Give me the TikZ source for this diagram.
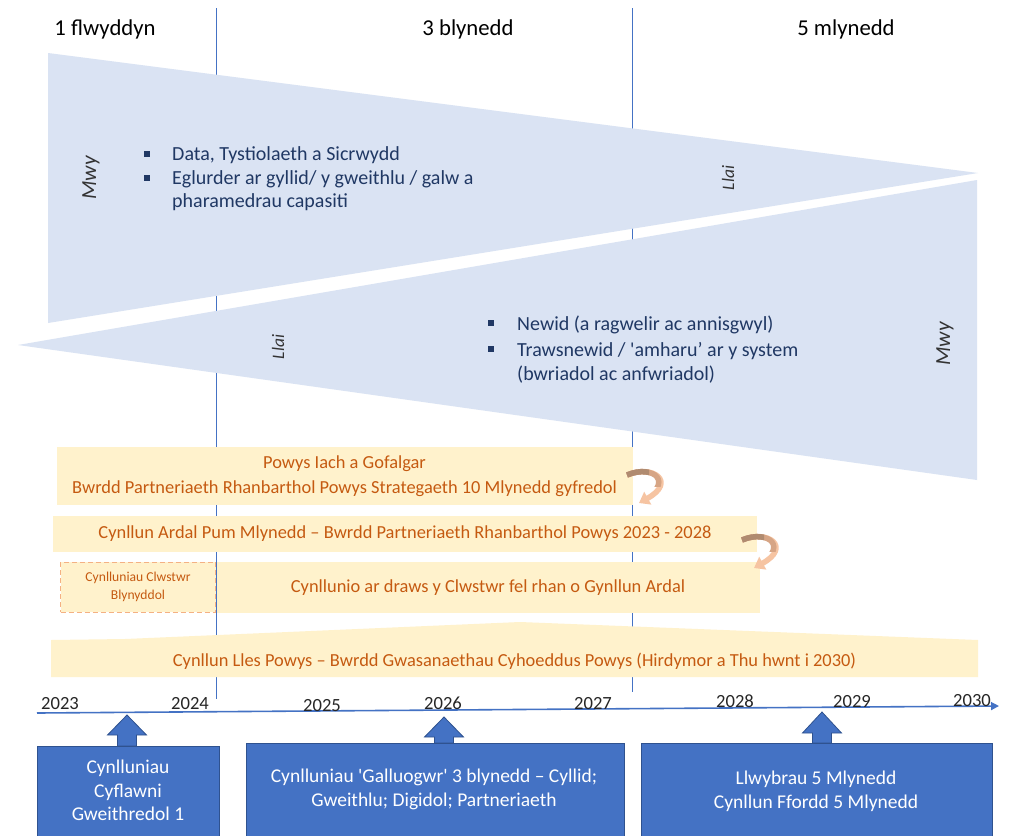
\documentclass[tikz,border=0pt]{standalone}
\usepackage{fontspec}
\newfontfamily\calfont{Carlito}
\usetikzlibrary{arrows.meta}
\definecolor{tri}{HTML}{DAE3F3}
\definecolor{vline}{HTML}{4472C4}
\definecolor{navy}{HTML}{203864}
\definecolor{boxfill}{HTML}{FFF2CC}
\definecolor{orangetext}{HTML}{C55A11}
\definecolor{dashcol}{HTML}{F4B183}
\definecolor{blue1}{HTML}{4472C4}
\definecolor{blueedge}{HTML}{2F528F}
\definecolor{yeartext}{HTML}{262626}
\definecolor{sidetext}{HTML}{333333}
\definecolor{curlA}{HTML}{B08B70}
\definecolor{curlB}{HTML}{D6A585}
\definecolor{curlC}{HTML}{F6C4A2}
\newcommand\fs[2]{\fontsize{#1}{#2}\selectfont}
\newcommand\uparr[4]{%
  \fill[blue1, draw=blueedge, line width=0.8pt]
    (#1,#2) -- (#1+19.5,#3) -- (#1+9.5,#3) -- (#1+9.5,#4)
    -- (#1-9.5,#4) -- (#1-9.5,#3) -- (#1-19.5,#3) -- cycle;}
\newcommand\curlpath{(0,3) .. controls (26,-8) and (50,10) .. (12,31)}
\begin{document}
\begin{tikzpicture}[x=1pt,y=-1pt,
  every node/.style={font=\calfont, inner sep=0pt},
  hdr/.style={font=\calfont\fs{22.7}{26}, text=black, anchor=base},
  bul/.style={font=\calfont\fs{20}{24}, text=navy, anchor=base west},
  sq/.style={fill=navy},
  side/.style={font=\calfont\itshape\fs{21.5}{24}, text=sidetext, rotate=90},
  sidesm/.style={font=\calfont\itshape\fs{17.5}{20}, text=sidetext, rotate=90},
  plan/.style={fill=boxfill, font=\calfont\fs{18.4}{24.5}, text=orangetext, align=center, inner sep=0pt},
  yr/.style={font=\calfont\fs{18.6}{20}, text=yeartext, anchor=base},
  bbox/.style={fill=blue1, draw=blueedge, line width=0.8pt},
  btext/.style={font=\calfont\fs{19.5}{23.5}, text=white, align=center},
  tl/.style={draw=vline, line width=0.9pt},
  curl/.style={line width=5.5pt},
]
\clip (0,0) rectangle (1011,835);
\fill[white] (0,0) rectangle (1011,835);

% vertical period lines
\coordinate (v1t) at (216,8);  \coordinate (v1b) at (216,699);
\coordinate (v2t) at (632,8);  \coordinate (v2b) at (632,692);
\draw[tl] (v1t) -- (v1b);
\draw[tl] (v2t) -- (v2b);

% headers
\node[hdr] (h1) at (105,35) {1 flwyddyn};
\node[hdr] (h2) at (468,35) {3 blynedd};
\node[hdr] (h3) at (846,35) {5 mlynedd};

% triangles
\fill[tri] (48,53) -- (978,173) -- (48,323) -- cycle;
\fill[tri] (18,345) -- (977,180) -- (977,480) -- cycle;

% top triangle texts
\node[side] (mwy1) at (91,178) {Mwy};
\node[sidesm] (llai1) at (728,178) {Llai};
\fill[sq] (144,151) rectangle (150,157);
\fill[sq] (144,175) rectangle (150,181);
\node[bul] (b1) at (172,160) {Data, Tystiolaeth a Sicrwydd};
\node[bul] (b2) at (172,184) {Eglurder ar gyllid/ y gweithlu / galw a};
\node[bul] (b3) at (172,207) {pharamedrau capasiti};

% bottom triangle texts
\node[sidesm] (llai2) at (278,347) {Llai};
\node[side] (mwy2) at (945,344) {Mwy};
\fill[sq] (488,320) rectangle (494,326);
\fill[sq] (488,346) rectangle (494,352);
\node[bul] (b4) at (517,330) {Newid (a ragwelir ac annisgwyl)};
\node[bul] (b5) at (517,356) {Trawsnewid / 'amharu’ ar y system};
\node[bul] (b6) at (517,380) {(bwriadol ac anfwriadol)};

% plan boxes
\node[plan, minimum width=576pt, minimum height=58pt] (p1) at (344.5,476)
  {Powys Iach a Gofalgar\\Bwrdd Partneriaeth Rhanbarthol Powys Strategaeth 10 Mlynedd gyfredol};
\node[plan, minimum width=704pt, minimum height=36pt] (p2) at (405,534)
  {Cynllun Ardal Pum Mlynedd – Bwrdd Partneriaeth Rhanbarthol Powys 2023 - 2028};
\node[plan, minimum width=543pt, minimum height=51pt] (p4) at (488,587.5)
  {\raisebox{3pt}{Cynllunio ar draws y Clwstwr fel rhan o Gynllun Ardal}};
\node[plan, draw=dashcol, line width=1pt, dash pattern=on 5pt off 3pt,
  minimum width=155pt, minimum height=50pt, font=\calfont\fs{13.6}{17.5}] (p3) at (138,587)
  {Cynlluniau Clwstwr\\Blynyddol};
\fill[boxfill] (51,677) -- (51,640) -- (125,639) -- (520,622) -- (978,640) -- (978,677) -- cycle;
\node[font=\calfont\fs{18.4}{20}, text=orangetext, anchor=base] (p5) at (514.5,666)
  {Cynllun Lles Powys – Bwrdd Gwasanaethau Cyhoeddus Powys (Hirdymor a Thu hwnt i 2030)};

% curved arrows
\foreach \cx/\cy in {627/472, 742/537}{
  \begin{scope}[shift={(\cx,\cy)}]
    \draw[curl, curlC, -{Triangle[width=14pt,length=10pt]}] \curlpath;
    \begin{scope}
      \clip (-5,-15) rectangle (60,14);
      \draw[curl, curlB] \curlpath;
    \end{scope}
    \begin{scope}
      \clip (-5,-15) rectangle (22,14);
      \draw[curl, curlA] \curlpath;
    \end{scope}
  \end{scope}
}

% time axis
\coordinate (ax0) at (37,713);
\coordinate (ax1) at (999,706);
\draw[vline, line width=1.6pt, -{Triangle[length=8pt,width=8pt]}] (ax0) -- (ax1);
\node[yr] (y23) at (60,709) {2023};
\node[yr] (y24) at (190,709) {2024};
\node[yr] (y25) at (322,711) {2025};
\node[yr] (y26) at (443,709) {2026};
\node[yr] (y27) at (593,709) {2027};
\node[yr] (y28) at (735,707) {2028};
\node[yr] (y29) at (852,707) {2029};
\node[yr] (y30) at (972,706) {2030};

% block arrows and bottom boxes
\uparr{127}{715}{735}{746}
\uparr{444}{717}{737}{743}
\uparr{822}{712}{733}{743}
\node[bbox, minimum width=182pt, minimum height=104pt] (bA) at (128,798) {};
\node[bbox, minimum width=378pt, minimum height=107pt] (bB) at (435,796.5) {};
\node[bbox, minimum width=351pt, minimum height=107pt] (bC) at (816.5,796.5) {};
\node[btext] (tA) at (128,790.5) {Cynlluniau\\Cyflawni\\Gweithredol 1};
\node[btext] (tB) at (434,789.5) {Cynlluniau 'Galluogwr' 3 blynedd – Cyllid;\\Gweithlu; Digidol; Partneriaeth};
\node[btext] (tC) at (816,791.5) {Llwybrau 5 Mlynedd\\Cynllun Ffordd 5 Mlynedd};
\end{tikzpicture}
\end{document}
